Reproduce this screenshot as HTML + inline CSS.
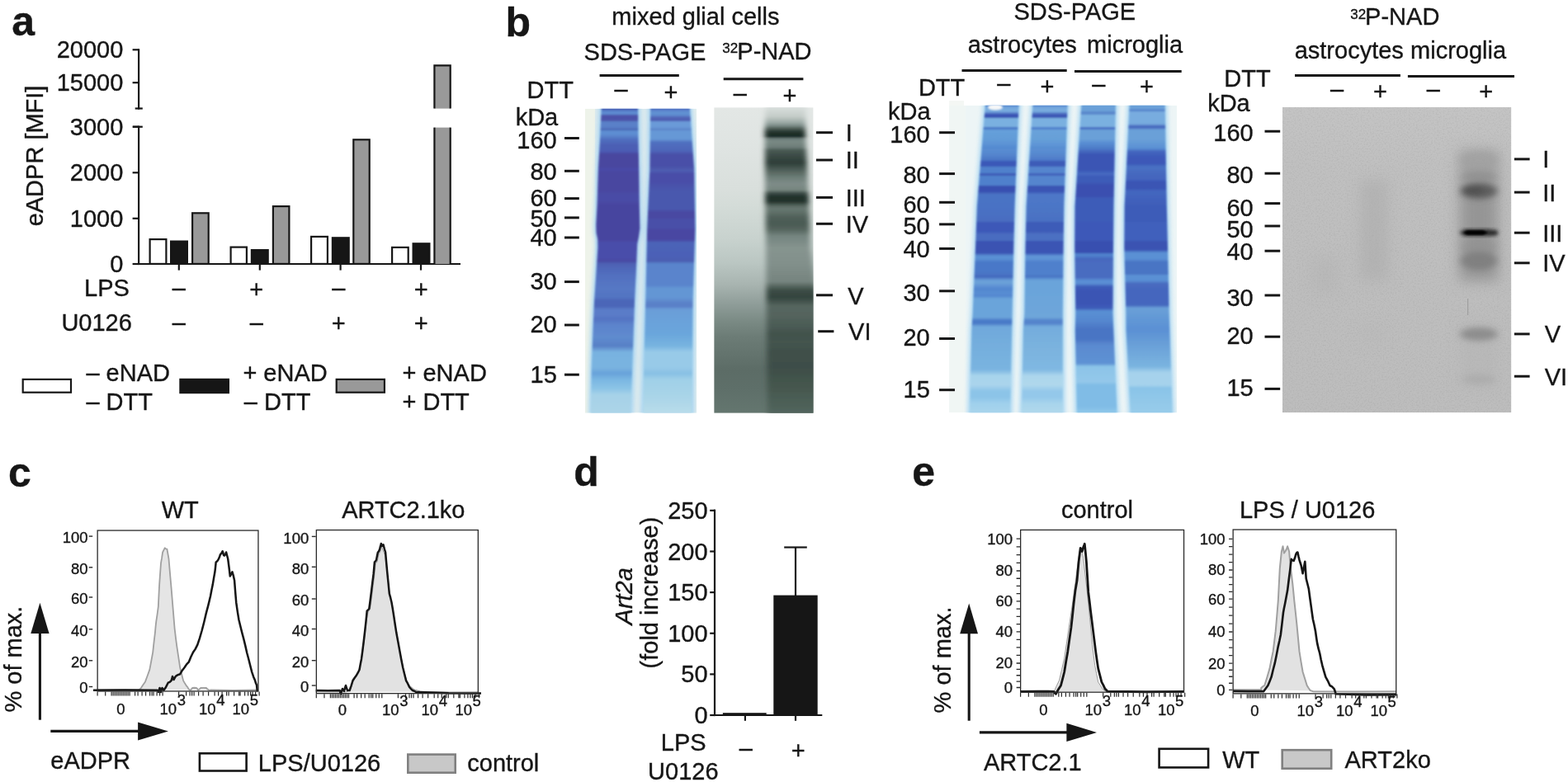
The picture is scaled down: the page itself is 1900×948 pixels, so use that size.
<!DOCTYPE html>
<html><head><meta charset="utf-8"><title>Figure</title>
<style>html,body{margin:0;padding:0;background:#fff;}svg{display:block;}</style></head>
<body><svg width="1900" height="948" viewBox="0 0 1900 948" font-family='"Liberation Sans", Arial, Helvetica, sans-serif' fill="#161616">
<style>text{stroke:#161616;stroke-width:0.35px;}</style>
<defs>
<filter id="bl1" x="-10%" y="-10%" width="120%" height="120%"><feGaussianBlur stdDeviation="1.1"/></filter>
<filter id="bl2" x="-30%" y="-30%" width="160%" height="160%"><feGaussianBlur stdDeviation="2"/></filter>
<filter id="bl3" x="-40%" y="-60%" width="180%" height="220%"><feGaussianBlur stdDeviation="3"/></filter>
<filter id="bl4" x="-40%" y="-80%" width="180%" height="260%"><feGaussianBlur stdDeviation="4.5 3.5"/></filter>
<filter id="bl5" x="-40%" y="-80%" width="180%" height="260%"><feGaussianBlur stdDeviation="5"/></filter>
<filter id="bl8" x="-50%" y="-50%" width="200%" height="200%"><feGaussianBlur stdDeviation="8"/></filter>
<filter id="blL" x="-20%" y="-5%" width="140%" height="110%"><feGaussianBlur stdDeviation="3.4 1.0"/></filter>
<filter id="glow" x="-20%" y="-5%" width="140%" height="110%"><feGaussianBlur stdDeviation="2.5"/></filter>
<clipPath id="cg1"><rect x="709" y="131.8" width="135.2" height="368.8"/></clipPath>
<linearGradient id="g1l1" gradientUnits="userSpaceOnUse" x1="0" y1="131.8" x2="0" y2="500.6"><stop offset="0" stop-color="#4458b0"/><stop offset="0.01" stop-color="#5d8ad0"/><stop offset="0.02" stop-color="#5d8ad0"/><stop offset="0.02" stop-color="#4e58ac"/><stop offset="0.03" stop-color="#4c50a8"/><stop offset="0.04" stop-color="#4e58ac"/><stop offset="0.04" stop-color="#5a80c8"/><stop offset="0.06" stop-color="#5a80c8"/><stop offset="0.07" stop-color="#4a64b4"/><stop offset="0.07" stop-color="#5a88cc"/><stop offset="0.08" stop-color="#5e90d4"/><stop offset="0.09" stop-color="#5a84cc"/><stop offset="0.1" stop-color="#5070c0"/><stop offset="0.12" stop-color="#4c60b4"/><stop offset="0.14" stop-color="#4c5cb4"/><stop offset="0.15" stop-color="#48469f"/><stop offset="0.19" stop-color="#48469f"/><stop offset="0.2" stop-color="#4a4ca8"/><stop offset="0.21" stop-color="#4a46a0"/><stop offset="0.27" stop-color="#4a46a0"/><stop offset="0.28" stop-color="#4a4ca6"/><stop offset="0.3" stop-color="#4a4ca6"/><stop offset="0.32" stop-color="#47449f"/><stop offset="0.43" stop-color="#47449f"/><stop offset="0.44" stop-color="#4a4eaa"/><stop offset="0.49" stop-color="#4a4eaa"/><stop offset="0.5" stop-color="#4848a2"/><stop offset="0.51" stop-color="#4e62b4"/><stop offset="0.55" stop-color="#5270c0"/><stop offset="0.59" stop-color="#5678c4"/><stop offset="0.62" stop-color="#5274c2"/><stop offset="0.63" stop-color="#4c66b8"/><stop offset="0.65" stop-color="#4c66b8"/><stop offset="0.66" stop-color="#5a7cc8"/><stop offset="0.68" stop-color="#5a7cc8"/><stop offset="0.69" stop-color="#5472c2"/><stop offset="0.71" stop-color="#5c84cc"/><stop offset="0.74" stop-color="#5e88ce"/><stop offset="0.75" stop-color="#5e8ccf"/><stop offset="0.78" stop-color="#5880c6"/><stop offset="0.8" stop-color="#78b2e0"/><stop offset="0.85" stop-color="#7ab4e0"/><stop offset="0.87" stop-color="#68a2da"/><stop offset="0.89" stop-color="#7ab6e2"/><stop offset="0.92" stop-color="#8cc4e6"/><stop offset="0.94" stop-color="#a6d2e8"/><stop offset="1" stop-color="#acd4e8"/></linearGradient>
<linearGradient id="g1l2" gradientUnits="userSpaceOnUse" x1="0" y1="131.8" x2="0" y2="500.6"><stop offset="0" stop-color="#4f6cc0"/><stop offset="0.01" stop-color="#6090d2"/><stop offset="0.02" stop-color="#6090d2"/><stop offset="0.03" stop-color="#5060b4"/><stop offset="0.04" stop-color="#5060b4"/><stop offset="0.04" stop-color="#6a9ad8"/><stop offset="0.06" stop-color="#6a9ad8"/><stop offset="0.07" stop-color="#5a80c8"/><stop offset="0.07" stop-color="#6698d6"/><stop offset="0.1" stop-color="#6698d6"/><stop offset="0.11" stop-color="#5070c0"/><stop offset="0.14" stop-color="#4e64b8"/><stop offset="0.15" stop-color="#4a50a8"/><stop offset="0.19" stop-color="#4a50a8"/><stop offset="0.2" stop-color="#4e5cb0"/><stop offset="0.21" stop-color="#4e5cb0"/><stop offset="0.21" stop-color="#4a4ea8"/><stop offset="0.24" stop-color="#4a4ea8"/><stop offset="0.27" stop-color="#4a58ae"/><stop offset="0.33" stop-color="#4a58ae"/><stop offset="0.34" stop-color="#4848a2"/><stop offset="0.36" stop-color="#4848a2"/><stop offset="0.36" stop-color="#4a50a8"/><stop offset="0.39" stop-color="#4a50a8"/><stop offset="0.4" stop-color="#4846a2"/><stop offset="0.43" stop-color="#4846a2"/><stop offset="0.44" stop-color="#4c64b8"/><stop offset="0.49" stop-color="#4c60b6"/><stop offset="0.5" stop-color="#4a5cb0"/><stop offset="0.51" stop-color="#5a84cc"/><stop offset="0.58" stop-color="#5a84cc"/><stop offset="0.59" stop-color="#6496d4"/><stop offset="0.62" stop-color="#6496d4"/><stop offset="0.64" stop-color="#5a80c8"/><stop offset="0.65" stop-color="#5a80c8"/><stop offset="0.66" stop-color="#6a9ed8"/><stop offset="0.74" stop-color="#6aa6dc"/><stop offset="0.78" stop-color="#78b4e0"/><stop offset="0.8" stop-color="#98cae8"/><stop offset="0.85" stop-color="#98cae8"/><stop offset="0.87" stop-color="#88c0e4"/><stop offset="0.89" stop-color="#a0d0e8"/><stop offset="0.94" stop-color="#a8d4e8"/><stop offset="1" stop-color="#b8dcea"/></linearGradient>
<clipPath id="cg2"><rect x="865.2" y="130.2" width="120.4" height="370.6"/></clipPath>
<linearGradient id="g2bg" gradientUnits="userSpaceOnUse" x1="0" y1="130.2" x2="0" y2="500.8"><stop offset="0" stop-color="#e3e7e5"/><stop offset="0.13" stop-color="#dfe4e2"/><stop offset="0.27" stop-color="#d9dfdc"/><stop offset="0.32" stop-color="#d4dcd8"/><stop offset="0.43" stop-color="#c8d2ce"/><stop offset="0.51" stop-color="#bac6c2"/><stop offset="0.58" stop-color="#a8b4b0"/><stop offset="0.64" stop-color="#909e9a"/><stop offset="0.7" stop-color="#7a8a84"/><stop offset="0.75" stop-color="#6c7c76"/><stop offset="0.86" stop-color="#5c6c66"/><stop offset="0.92" stop-color="#5e6f69"/><stop offset="1" stop-color="#64766f"/></linearGradient>
<linearGradient id="g2ln" gradientUnits="userSpaceOnUse" x1="0" y1="130.2" x2="0" y2="500.8"><stop offset="0" stop-color="#d8dedc"/><stop offset="0.03" stop-color="#c4ccc8"/><stop offset="0.05" stop-color="#9aa8a4"/><stop offset="0.06" stop-color="#7a8a85"/><stop offset="0.07" stop-color="#4a5a54"/><stop offset="0.08" stop-color="#26362f"/><stop offset="0.09" stop-color="#1c2c26"/><stop offset="0.1" stop-color="#2a3a34"/><stop offset="0.1" stop-color="#647470"/><stop offset="0.11" stop-color="#7a8a85"/><stop offset="0.13" stop-color="#6e7e79"/><stop offset="0.14" stop-color="#4a5a54"/><stop offset="0.16" stop-color="#3a4a44"/><stop offset="0.18" stop-color="#2e3e38"/><stop offset="0.19" stop-color="#3a4a44"/><stop offset="0.21" stop-color="#56665f"/><stop offset="0.23" stop-color="#6e7e79"/><stop offset="0.25" stop-color="#7e8c88"/><stop offset="0.27" stop-color="#76867f"/><stop offset="0.28" stop-color="#3e4e48"/><stop offset="0.29" stop-color="#263630"/><stop offset="0.3" stop-color="#1e2e28"/><stop offset="0.31" stop-color="#283832"/><stop offset="0.32" stop-color="#52625b"/><stop offset="0.33" stop-color="#66766f"/><stop offset="0.34" stop-color="#62726b"/><stop offset="0.36" stop-color="#50605a"/><stop offset="0.38" stop-color="#4a5a53"/><stop offset="0.4" stop-color="#56665f"/><stop offset="0.42" stop-color="#74847f"/><stop offset="0.46" stop-color="#86948f"/><stop offset="0.51" stop-color="#82908b"/><stop offset="0.57" stop-color="#76847f"/><stop offset="0.59" stop-color="#4c5c55"/><stop offset="0.6" stop-color="#3c4c46"/><stop offset="0.62" stop-color="#34443e"/><stop offset="0.63" stop-color="#3e4e48"/><stop offset="0.65" stop-color="#56665f"/><stop offset="0.68" stop-color="#54645d"/><stop offset="0.72" stop-color="#4a5a54"/><stop offset="0.74" stop-color="#42524c"/><stop offset="0.77" stop-color="#44544e"/><stop offset="0.8" stop-color="#40504a"/><stop offset="0.85" stop-color="#3e4e48"/><stop offset="0.92" stop-color="#46584f"/><stop offset="1" stop-color="#52655d"/></linearGradient>
<clipPath id="cg3"><rect x="1150.2" y="127.7" width="275.8" height="372.5"/></clipPath>
<linearGradient id="g3a1" gradientUnits="userSpaceOnUse" x1="0" y1="127.7" x2="0" y2="500.2"><stop offset="0" stop-color="#5a8ad0"/><stop offset="0.01" stop-color="#78acdf"/><stop offset="0.02" stop-color="#78acdf"/><stop offset="0.03" stop-color="#3a52b4"/><stop offset="0.04" stop-color="#3a52b4"/><stop offset="0.04" stop-color="#7ab0e0"/><stop offset="0.07" stop-color="#7ab0e0"/><stop offset="0.07" stop-color="#4a78c8"/><stop offset="0.08" stop-color="#4a78c8"/><stop offset="0.08" stop-color="#66a0da"/><stop offset="0.11" stop-color="#629cd8"/><stop offset="0.13" stop-color="#5a90d4"/><stop offset="0.14" stop-color="#5088cf"/><stop offset="0.14" stop-color="#5a8ed2"/><stop offset="0.16" stop-color="#5486ce"/><stop offset="0.18" stop-color="#4a74c4"/><stop offset="0.18" stop-color="#3a58b8"/><stop offset="0.2" stop-color="#3a58b8"/><stop offset="0.2" stop-color="#5080cc"/><stop offset="0.22" stop-color="#5080cc"/><stop offset="0.22" stop-color="#3e5cb8"/><stop offset="0.23" stop-color="#3e5cb8"/><stop offset="0.23" stop-color="#5080cc"/><stop offset="0.26" stop-color="#5080cc"/><stop offset="0.26" stop-color="#3850b0"/><stop offset="0.28" stop-color="#3850b0"/><stop offset="0.29" stop-color="#4a74c4"/><stop offset="0.33" stop-color="#4a72c4"/><stop offset="0.38" stop-color="#4a6cc0"/><stop offset="0.38" stop-color="#3c58b8"/><stop offset="0.41" stop-color="#3c58b8"/><stop offset="0.42" stop-color="#4a6cc0"/><stop offset="0.44" stop-color="#4a6cc0"/><stop offset="0.44" stop-color="#3a52b2"/><stop offset="0.48" stop-color="#3a52b2"/><stop offset="0.49" stop-color="#5a90d4"/><stop offset="0.5" stop-color="#5a90d4"/><stop offset="0.51" stop-color="#4a78c8"/><stop offset="0.54" stop-color="#4a78c8"/><stop offset="0.55" stop-color="#4a74c4"/><stop offset="0.56" stop-color="#3e64bc"/><stop offset="0.56" stop-color="#4a74c4"/><stop offset="0.57" stop-color="#6aa0d8"/><stop offset="0.58" stop-color="#6aa0d8"/><stop offset="0.59" stop-color="#5a8ed4"/><stop offset="0.6" stop-color="#5286ce"/><stop offset="0.61" stop-color="#5a8ed4"/><stop offset="0.62" stop-color="#5488d0"/><stop offset="0.63" stop-color="#6aa4da"/><stop offset="0.69" stop-color="#6aa4da"/><stop offset="0.7" stop-color="#4a7ac8"/><stop offset="0.71" stop-color="#4a7ac8"/><stop offset="0.72" stop-color="#70a8dc"/><stop offset="0.78" stop-color="#74aedd"/><stop offset="0.86" stop-color="#7ab4e0"/><stop offset="0.88" stop-color="#a8d4ec"/><stop offset="0.91" stop-color="#aad4ec"/><stop offset="0.93" stop-color="#8cc4e8"/><stop offset="0.95" stop-color="#8cc4e8"/><stop offset="0.97" stop-color="#a0d0ec"/><stop offset="1" stop-color="#a8d4ec"/></linearGradient>
<linearGradient id="g3a2" gradientUnits="userSpaceOnUse" x1="0" y1="127.7" x2="0" y2="500.2"><stop offset="0" stop-color="#5a8ad0"/><stop offset="0.01" stop-color="#78acdf"/><stop offset="0.02" stop-color="#78acdf"/><stop offset="0.03" stop-color="#3e58b6"/><stop offset="0.04" stop-color="#3e58b6"/><stop offset="0.04" stop-color="#7ab0e0"/><stop offset="0.07" stop-color="#7ab0e0"/><stop offset="0.07" stop-color="#5080cc"/><stop offset="0.08" stop-color="#5080cc"/><stop offset="0.08" stop-color="#6aa2da"/><stop offset="0.11" stop-color="#66a0d8"/><stop offset="0.13" stop-color="#5e94d6"/><stop offset="0.14" stop-color="#548ccf"/><stop offset="0.14" stop-color="#5c90d4"/><stop offset="0.16" stop-color="#5688ce"/><stop offset="0.18" stop-color="#4e78c8"/><stop offset="0.18" stop-color="#3e5cb8"/><stop offset="0.2" stop-color="#3e5cb8"/><stop offset="0.2" stop-color="#5585ce"/><stop offset="0.22" stop-color="#5585ce"/><stop offset="0.22" stop-color="#4262bc"/><stop offset="0.23" stop-color="#4262bc"/><stop offset="0.23" stop-color="#5585ce"/><stop offset="0.26" stop-color="#5585ce"/><stop offset="0.26" stop-color="#3a54b4"/><stop offset="0.28" stop-color="#3a54b4"/><stop offset="0.29" stop-color="#4e78c8"/><stop offset="0.33" stop-color="#4c76c6"/><stop offset="0.38" stop-color="#4a70c2"/><stop offset="0.38" stop-color="#3e5cb8"/><stop offset="0.41" stop-color="#3e5cb8"/><stop offset="0.42" stop-color="#4c70c2"/><stop offset="0.44" stop-color="#4c70c2"/><stop offset="0.44" stop-color="#3a54b4"/><stop offset="0.48" stop-color="#3a54b4"/><stop offset="0.49" stop-color="#5e94d6"/><stop offset="0.5" stop-color="#5e94d6"/><stop offset="0.51" stop-color="#5080cc"/><stop offset="0.54" stop-color="#5080cc"/><stop offset="0.55" stop-color="#5080cc"/><stop offset="0.56" stop-color="#4470c0"/><stop offset="0.56" stop-color="#5282cc"/><stop offset="0.57" stop-color="#6aa4da"/><stop offset="0.69" stop-color="#6ea6da"/><stop offset="0.7" stop-color="#5484cc"/><stop offset="0.71" stop-color="#5484cc"/><stop offset="0.72" stop-color="#74acdd"/><stop offset="0.78" stop-color="#7ab2de"/><stop offset="0.86" stop-color="#80b8e2"/><stop offset="0.88" stop-color="#acd6ec"/><stop offset="0.91" stop-color="#b0d8ec"/><stop offset="0.93" stop-color="#94c8ea"/><stop offset="0.95" stop-color="#94c8ea"/><stop offset="0.97" stop-color="#a8d4ec"/><stop offset="1" stop-color="#b0d8ec"/></linearGradient>
<linearGradient id="g3m3" gradientUnits="userSpaceOnUse" x1="0" y1="127.7" x2="0" y2="500.2"><stop offset="0" stop-color="#6aa0d8"/><stop offset="0.02" stop-color="#6aa0d8"/><stop offset="0.02" stop-color="#5a88cc"/><stop offset="0.03" stop-color="#5a88cc"/><stop offset="0.03" stop-color="#7ab0e0"/><stop offset="0.07" stop-color="#7ab0e0"/><stop offset="0.07" stop-color="#4a70c4"/><stop offset="0.08" stop-color="#4a70c4"/><stop offset="0.08" stop-color="#6aa0d8"/><stop offset="0.11" stop-color="#6aa0d8"/><stop offset="0.12" stop-color="#5a90d4"/><stop offset="0.14" stop-color="#4e7cc8"/><stop offset="0.16" stop-color="#3a54b4"/><stop offset="0.21" stop-color="#3a54b4"/><stop offset="0.22" stop-color="#4468c0"/><stop offset="0.23" stop-color="#4468c0"/><stop offset="0.23" stop-color="#3e5cb8"/><stop offset="0.25" stop-color="#3e5cb8"/><stop offset="0.26" stop-color="#3a50b0"/><stop offset="0.3" stop-color="#3a50b0"/><stop offset="0.3" stop-color="#3e5cb8"/><stop offset="0.38" stop-color="#3e5cb8"/><stop offset="0.38" stop-color="#3c58b8"/><stop offset="0.44" stop-color="#3c58b8"/><stop offset="0.44" stop-color="#3850b0"/><stop offset="0.48" stop-color="#3850b0"/><stop offset="0.48" stop-color="#5080cc"/><stop offset="0.49" stop-color="#5080cc"/><stop offset="0.5" stop-color="#4466be"/><stop offset="0.51" stop-color="#4a6cc0"/><stop offset="0.56" stop-color="#4a6cc0"/><stop offset="0.57" stop-color="#5a8ed4"/><stop offset="0.58" stop-color="#5a8ed4"/><stop offset="0.59" stop-color="#3e5cb8"/><stop offset="0.61" stop-color="#3a54b4"/><stop offset="0.64" stop-color="#3a54b4"/><stop offset="0.66" stop-color="#3e5cb8"/><stop offset="0.67" stop-color="#5a90d4"/><stop offset="0.7" stop-color="#5588cf"/><stop offset="0.73" stop-color="#4a74c4"/><stop offset="0.76" stop-color="#4a74c4"/><stop offset="0.78" stop-color="#5a8ad0"/><stop offset="0.84" stop-color="#5e92d4"/><stop offset="0.85" stop-color="#8cc4e8"/><stop offset="0.9" stop-color="#94c8ea"/><stop offset="0.91" stop-color="#80bce6"/><stop offset="0.98" stop-color="#80bce6"/><stop offset="1" stop-color="#90c8ea"/></linearGradient>
<linearGradient id="g3m4" gradientUnits="userSpaceOnUse" x1="0" y1="127.7" x2="0" y2="500.2"><stop offset="0" stop-color="#6aa0d8"/><stop offset="0.01" stop-color="#6aa0d8"/><stop offset="0.02" stop-color="#4a74c4"/><stop offset="0.02" stop-color="#4a74c4"/><stop offset="0.02" stop-color="#78acdf"/><stop offset="0.06" stop-color="#78acdf"/><stop offset="0.07" stop-color="#3e5cb8"/><stop offset="0.07" stop-color="#3e5cb8"/><stop offset="0.08" stop-color="#6aa0d8"/><stop offset="0.11" stop-color="#6aa0d8"/><stop offset="0.14" stop-color="#5a90d4"/><stop offset="0.15" stop-color="#4466be"/><stop offset="0.17" stop-color="#3c58b8"/><stop offset="0.19" stop-color="#3c58b8"/><stop offset="0.2" stop-color="#4a72c4"/><stop offset="0.23" stop-color="#4466be"/><stop offset="0.24" stop-color="#4466be"/><stop offset="0.25" stop-color="#3a54b4"/><stop offset="0.27" stop-color="#3a54b4"/><stop offset="0.28" stop-color="#4468c0"/><stop offset="0.33" stop-color="#3e5cb8"/><stop offset="0.38" stop-color="#3e5cb8"/><stop offset="0.38" stop-color="#4060bc"/><stop offset="0.44" stop-color="#4060bc"/><stop offset="0.44" stop-color="#3a52b2"/><stop offset="0.47" stop-color="#3a52b2"/><stop offset="0.48" stop-color="#5a90d4"/><stop offset="0.5" stop-color="#5a90d4"/><stop offset="0.51" stop-color="#4a74c4"/><stop offset="0.55" stop-color="#4a74c4"/><stop offset="0.55" stop-color="#5a90d4"/><stop offset="0.57" stop-color="#5a90d4"/><stop offset="0.58" stop-color="#4a6cc0"/><stop offset="0.6" stop-color="#4466be"/><stop offset="0.65" stop-color="#4466be"/><stop offset="0.66" stop-color="#6aa0d8"/><stop offset="0.73" stop-color="#5a90d4"/><stop offset="0.78" stop-color="#6aa0d8"/><stop offset="0.85" stop-color="#7ab4e0"/><stop offset="0.87" stop-color="#a6d2ec"/><stop offset="0.91" stop-color="#a6d2ec"/><stop offset="0.92" stop-color="#8ac4e8"/><stop offset="1" stop-color="#98ccea"/></linearGradient>
<clipPath id="cg4"><rect x="1554" y="129.8" width="277.4" height="370.4"/></clipPath>
<linearGradient id="g4bg" gradientUnits="userSpaceOnUse" x1="0" y1="129.8" x2="0" y2="500.2"><stop offset="0" stop-color="#c4c4c4"/><stop offset="0.19" stop-color="#c0c0c0"/><stop offset="0.59" stop-color="#bebebe"/><stop offset="1" stop-color="#bdbdbd"/></linearGradient>
<filter id="grain" x="0" y="0" width="100%" height="100%"><feTurbulence type="fractalNoise" baseFrequency="0.55" numOctaves="2" seed="5" result="n"/><feColorMatrix in="n" type="matrix" values="0 0 0 0 0  0 0 0 0 0  0 0 0 0 0  0 0 0 -0.9 0.5"/></filter>
</defs>
<rect width="1900" height="948" fill="#fff"/>
<text x="14.34" y="43.3" font-size="50" font-weight="bold">a</text>
<text x="68.69" y="70.4" font-size="29">20000</text>
<line x1="160.6" y1="60.3" x2="168.1" y2="60.3" stroke="#161616" stroke-width="2.2"/>
<text x="68.69" y="110.3" font-size="29">15000</text>
<line x1="160.6" y1="100.2" x2="168.1" y2="100.2" stroke="#161616" stroke-width="2.2"/>
<text x="84.82" y="163.8" font-size="29">3000</text>
<line x1="160.6" y1="153.7" x2="168.1" y2="153.7" stroke="#161616" stroke-width="2.2"/>
<text x="84.82" y="219.4" font-size="29">2000</text>
<line x1="160.6" y1="209.3" x2="168.1" y2="209.3" stroke="#161616" stroke-width="2.2"/>
<text x="84.82" y="274.9" font-size="29">1000</text>
<line x1="160.6" y1="264.8" x2="168.1" y2="264.8" stroke="#161616" stroke-width="2.2"/>
<text x="133.2" y="330.1" font-size="29">0</text>
<line x1="160.6" y1="320" x2="168.1" y2="320" stroke="#161616" stroke-width="2.2"/>
<line x1="168.1" y1="59.2" x2="168.1" y2="132.6" stroke="#161616" stroke-width="2.2"/>
<line x1="163.7" y1="131.5" x2="172.8" y2="131.5" stroke="#161616" stroke-width="2.2"/>
<line x1="168.1" y1="152.6" x2="168.1" y2="321.1" stroke="#161616" stroke-width="2.2"/>
<line x1="161" y1="153.7" x2="172.8" y2="153.7" stroke="#161616" stroke-width="2.2"/>
<line x1="168.1" y1="320" x2="558" y2="320" stroke="#161616" stroke-width="2.2"/>
<line x1="216.8" y1="320" x2="216.8" y2="327.6" stroke="#161616" stroke-width="2.2"/>
<line x1="314.8" y1="320" x2="314.8" y2="327.6" stroke="#161616" stroke-width="2.2"/>
<line x1="412.6" y1="320" x2="412.6" y2="327.6" stroke="#161616" stroke-width="2.2"/>
<line x1="510" y1="320" x2="510" y2="327.6" stroke="#161616" stroke-width="2.2"/>
<rect x="181.6" y="290.1" width="19.8" height="29.8" fill="#fff" stroke="#161616" stroke-width="2.2"/>
<rect x="207.1" y="292.6" width="19.8" height="27.3" fill="#161616" stroke="#161616" stroke-width="2.2"/>
<rect x="233.1" y="258.3" width="19.6" height="61.6" fill="#999" stroke="#161616" stroke-width="2.2"/>
<rect x="279.6" y="299.6" width="19.3" height="20.3" fill="#fff" stroke="#161616" stroke-width="2.2"/>
<rect x="304.9" y="303.1" width="19.8" height="16.8" fill="#161616" stroke="#161616" stroke-width="2.2"/>
<rect x="330.9" y="250.1" width="19.5" height="69.8" fill="#999" stroke="#161616" stroke-width="2.2"/>
<rect x="377.1" y="286.9" width="19.8" height="33" fill="#fff" stroke="#161616" stroke-width="2.2"/>
<rect x="402.9" y="288.3" width="19.8" height="31.6" fill="#161616" stroke="#161616" stroke-width="2.2"/>
<rect x="428.3" y="169.3" width="19.4" height="150.6" fill="#999" stroke="#161616" stroke-width="2.2"/>
<rect x="475.1" y="299.9" width="19.6" height="20" fill="#fff" stroke="#161616" stroke-width="2.2"/>
<rect x="500.6" y="295.3" width="19.8" height="24.6" fill="#161616" stroke="#161616" stroke-width="2.2"/>
<rect x="526.4" y="79.4" width="19.3" height="52.2" fill="#999"/>
<path d="M526.4,131.6 V79.4 H545.7 V131.6" fill="none" stroke="#161616" stroke-width="2.2"/>
<rect x="526.4" y="154.6" width="19.3" height="165.4" fill="#999"/>
<line x1="526.4" y1="154.6" x2="526.4" y2="321" stroke="#161616" stroke-width="2.2"/>
<line x1="545.7" y1="154.6" x2="545.7" y2="321" stroke="#161616" stroke-width="2.2"/>
<text transform="translate(51.8,189.4) rotate(-90)" x="-84.98" y="0" font-size="29">eADPR [MFI]</text>
<text x="102.02" y="359" font-size="29">LPS</text>
<text x="74.42" y="400.8" font-size="29">U0126</text>
<text x="208.84" y="359" font-size="29">–</text>
<text x="302.34" y="360.5" font-size="29">+</text>
<text x="402.14" y="359" font-size="29">–</text>
<text x="501.74" y="360.5" font-size="29">+</text>
<text x="208.84" y="400.8" font-size="29">–</text>
<text x="302.74" y="400.8" font-size="29">–</text>
<text x="401.74" y="402.3" font-size="29">+</text>
<text x="501.74" y="402.3" font-size="29">+</text>
<rect x="27.7" y="459.9" width="58.3" height="15.8" fill="#fff" stroke="#161616" stroke-width="2.2"/>
<rect x="218.4" y="459.9" width="58.5" height="16.2" fill="#161616" stroke="#161616" stroke-width="2.2"/>
<rect x="407.7" y="459.9" width="58.2" height="15.8" fill="#999" stroke="#161616" stroke-width="2.2"/>
<text x="104.4" y="461.8" font-size="29">– eNAD</text>
<text x="104.4" y="496.8" font-size="29">– DTT</text>
<text x="294.38" y="461.8" font-size="29">+ eNAD</text>
<text x="295.8" y="496.8" font-size="29">– DTT</text>
<text x="487.48" y="461.8" font-size="29">+ eNAD</text>
<text x="487.48" y="496.8" font-size="29">+ DTT</text>
<g clip-path="url(#cg1)">
<rect x="709" y="131.8" width="135.2" height="368.8" fill="#dceaee"/>
<rect x="709" y="131.8" width="12" height="368.8" fill="#eef3ea"/>
<rect x="839" y="131.8" width="5.2" height="368.8" fill="#e4eeee"/>
<g filter="url(#glow)" opacity="0.9">
<path d="M725.9,128 L724,170 L721.9,205 L720.5,250 L719.3,272 L719.5,282 L721.2,290 L721.4,300 L719.5,330 L717,366 L715.5,400 L713.8,446 L713,504 L767,504 L769.2,446 L770.5,410 L772,366 L773.8,330 L775.2,296 L777,287 L778.4,277 L777.8,250 L777.2,205 L776.5,170 L776,128 Z" fill="#a6d4f2"/>
<path d="M785.2,128 L784.4,205 L781.2,277 L779.2,366 L777.2,446 L776.4,504 L841.4,504 L842.6,366 L845.4,277 L844.2,205 L838.6,128 Z" fill="#a6d4f2"/>
</g>
<g filter="url(#bl1)">
<path d="M728.9,128 L727,170 L724.9,205 L723.5,250 L722.3,272 L722.5,282 L724.2,290 L724.4,300 L722.5,330 L720,366 L718.5,400 L716.8,446 L716,504 L764,504 L766.2,446 L767.5,410 L769,366 L770.8,330 L772.2,296 L774,287 L775.4,277 L774.8,250 L774.2,205 L773.5,170 L773,128 Z" fill="url(#g1l1)"/>
<path d="M788.2,128 L787.4,205 L784.2,277 L782.2,366 L780.2,446 L779.4,504 L838.4,504 L839.6,366 L842.4,277 L841.2,205 L835.6,128 Z" fill="url(#g1l2)"/>
</g></g>
<g clip-path="url(#cg2)">
<rect x="865.2" y="130.2" width="120.4" height="370.6" fill="url(#g2bg)"/>
<g filter="url(#blL)">
<path d="M927.5,128 L926.5,160 L927,240 L928,300 L929,420 L930,505 L992,505 L990,360 L982,300 L980,240 L976,160 L976.5,128 Z" fill="url(#g2ln)"/>
</g></g>
<g clip-path="url(#cg3)">
<rect x="1150.2" y="127.7" width="275.8" height="372.5" fill="#edf5f6"/>
<rect x="1150.2" y="127.7" width="19.8" height="372.5" fill="#f0f6f4"/>
<g filter="url(#glow)" opacity="0.85">
<path d="M1191.2,124 L1180.9,250 L1179,300 L1175.7,380 L1174.4,400 L1172,504 L1227,504 L1229.6,380 L1231.3,300 L1232.6,250 L1237.7,124 Z" fill="#a8d6f2"/>
<path d="M1248.7,124 L1240.6,250 L1239.5,300 L1238.4,380 L1237,400 L1235,504 L1290.7,504 L1290.8,380 L1291.6,300 L1292.3,250 L1296.7,124 Z" fill="#a8d6f2"/>
<path d="M1307.6,124 L1299.5,250 L1299.2,300 L1300.3,380 L1299.8,400 L1302,504 L1356.6,504 L1351.5,380 L1352,300 L1352.5,250 L1354.9,124 Z" fill="#a8d6f2"/>
<path d="M1365.8,124 L1359.6,250 L1359.3,300 L1361.4,380 L1361.5,400 L1367,504 L1423.7,504 L1419.7,380 L1418,300 L1416.8,250 L1414.6,124 Z" fill="#a8d6f2"/>
</g><g filter="url(#bl1)">
<path d="M1194.2,124 L1183.9,250 L1182,300 L1178.7,380 L1177.4,400 L1175,504 L1224,504 L1226.6,380 L1228.3,300 L1229.6,250 L1234.7,124 Z" fill="url(#g3a1)"/>
<path d="M1251.7,124 L1243.6,250 L1242.5,300 L1241.4,380 L1240,400 L1238,504 L1287.7,504 L1287.8,380 L1288.6,300 L1289.3,250 L1293.7,124 Z" fill="url(#g3a2)"/>
<path d="M1310.6,124 L1302.5,250 L1302.2,300 L1303.3,380 L1302.8,400 L1305,504 L1353.6,504 L1348.5,380 L1349,300 L1349.5,250 L1351.9,124 Z" fill="url(#g3m3)"/>
<path d="M1368.8,124 L1362.6,250 L1362.3,300 L1364.4,380 L1364.5,400 L1370,504 L1420.7,504 L1416.7,380 L1415,300 L1413.8,250 L1411.6,124 Z" fill="url(#g3m4)"/>
</g>
<ellipse cx="1206" cy="130" rx="9" ry="3.6" fill="#f6f7f8" filter="url(#bl1)"/>
</g>
<rect x="1150.2" y="122" width="17.8" height="6" fill="#f4f7f4"/>
<g clip-path="url(#cg4)">
<rect x="1554" y="129.8" width="277.4" height="370.4" fill="url(#g4bg)"/>
<rect x="1554.0" y="129.8" width="277.4" height="370.4" filter="url(#grain)" opacity="0.14"/>
<g filter="url(#bl8)">
<rect x="1648" y="218" width="34" height="122" fill="#acacac" opacity="0.6"/>
<rect x="1590" y="312" width="32" height="44" fill="#b2b2b2" opacity="0.45"/>
<rect x="1648" y="395" width="30" height="20" fill="#b4b4b4" opacity="0.35"/>
<rect x="1768" y="182" width="48" height="160" fill="#9a9a9a" opacity="0.85"/>
<rect x="1770" y="215" width="44" height="120" fill="#8c8c8c" opacity="0.5"/>
<rect x="1770" y="390" width="44" height="80" fill="#b4b4b4" opacity="0.5"/>
</g>
<g filter="url(#bl4)">
<ellipse cx="1792" cy="194" rx="22" ry="9" fill="#a2a2a2" opacity="0.7"/>
<ellipse cx="1792" cy="214" rx="22" ry="6" fill="#8a8a8a" opacity="0.5"/>
<ellipse cx="1792" cy="231.5" rx="22" ry="9.5" fill="#5a5a5a" opacity="0.9"/>
<ellipse cx="1792" cy="300" rx="22" ry="8" fill="#929292" opacity="0.5"/>
<ellipse cx="1792" cy="316" rx="22" ry="11" fill="#7c7c7c" opacity="0.85"/>
<ellipse cx="1792" cy="405" rx="23" ry="8" fill="#868686" opacity="0.85"/>
<ellipse cx="1792" cy="460" rx="20" ry="6" fill="#aaaaaa" opacity="0.75"/>
<ellipse cx="1785" cy="231" rx="14" ry="6" fill="#4a4a4a" opacity="0.6"/>
</g>
<g filter="url(#bl2)"><path d="M1768,282 L1775,278 L1800,277.8 L1813,279 L1816,282 L1813,285.5 L1800,286.2 L1775,286.2 Z" fill="#2a2a2a"/></g>
<g filter="url(#bl1)"><path d="M1773,282 L1778,279.3 L1797,279.3 L1803,282 L1797,284.7 L1778,284.7 Z" fill="#000"/></g>
<line x1="1778.7" y1="362" x2="1778.7" y2="382" stroke="#999" stroke-width="1"/>
</g>
<text x="612.4" y="43.8" font-size="50" font-weight="bold">b</text>
<text x="741.37" y="29.9" font-size="29">mixed glial cells</text>
<text x="707.58" y="72.9" font-size="29">SDS-PAGE</text>
<text x="875.35" y="63.9" font-size="17">32</text>
<text x="893.32" y="72.2" font-size="29">P-NAD</text>
<line x1="726.6" y1="91.6" x2="822.8" y2="91.6" stroke="#161616" stroke-width="3"/>
<line x1="876.7" y1="95.7" x2="973.4" y2="95.7" stroke="#161616" stroke-width="3"/>
<text x="638.62" y="118.5" font-size="29">DTT</text>
<text x="744.44" y="117.96" font-size="29">–</text>
<text x="804.44" y="122.34" font-size="29">+</text>
<text x="888.74" y="122.56" font-size="29">–</text>
<text x="948.54" y="125.84" font-size="29">+</text>
<text x="624.65" y="152.3" font-size="29">kDa</text>
<text x="626.35" y="180.4" font-size="29">160</text>
<line x1="684" y1="167.5" x2="701.8" y2="167.5" stroke="#161616" stroke-width="3"/>
<text x="642.48" y="218.3" font-size="29">80</text>
<line x1="684" y1="207.3" x2="701.8" y2="207.3" stroke="#161616" stroke-width="3"/>
<text x="642.48" y="250" font-size="29">60</text>
<line x1="684" y1="240.6" x2="701.8" y2="240.6" stroke="#161616" stroke-width="3"/>
<text x="642.48" y="274.7" font-size="29">50</text>
<line x1="684" y1="263.9" x2="701.8" y2="263.9" stroke="#161616" stroke-width="3"/>
<text x="642.48" y="297.5" font-size="29">40</text>
<line x1="684" y1="288" x2="701.8" y2="288" stroke="#161616" stroke-width="3"/>
<text x="642.48" y="351.2" font-size="29">30</text>
<line x1="684" y1="341.6" x2="701.8" y2="341.6" stroke="#161616" stroke-width="3"/>
<text x="642.48" y="402.7" font-size="29">20</text>
<line x1="684" y1="394" x2="701.8" y2="394" stroke="#161616" stroke-width="3"/>
<text x="642.56" y="464.4" font-size="29">15</text>
<line x1="684" y1="454.2" x2="701.8" y2="454.2" stroke="#161616" stroke-width="3"/>
<text x="1228.48" y="23.8" font-size="29">SDS-PAGE</text>
<text x="1172.67" y="64.3" font-size="29">astrocytes</text>
<text x="1317.07" y="64.3" font-size="29">microglia</text>
<line x1="1165.5" y1="85.4" x2="1292.7" y2="85.4" stroke="#161616" stroke-width="3"/>
<line x1="1302" y1="86.5" x2="1431.7" y2="86.5" stroke="#161616" stroke-width="3"/>
<text x="1112.92" y="115.6" font-size="29">DTT</text>
<text x="1208.14" y="111.36" font-size="29">–</text>
<text x="1260.44" y="115.24" font-size="29">+</text>
<text x="1323.24" y="111.66" font-size="29">–</text>
<text x="1381.04" y="115.24" font-size="29">+</text>
<text x="1076.05" y="145.1" font-size="29">kDa</text>
<text x="1078.35" y="172.5" font-size="29">160</text>
<line x1="1138.1" y1="160.7" x2="1157" y2="160.7" stroke="#161616" stroke-width="3"/>
<text x="1094.48" y="221.8" font-size="29">80</text>
<line x1="1138.1" y1="210.6" x2="1157" y2="210.6" stroke="#161616" stroke-width="3"/>
<text x="1094.48" y="258.3" font-size="29">60</text>
<line x1="1138.1" y1="245.3" x2="1157" y2="245.3" stroke="#161616" stroke-width="3"/>
<text x="1094.48" y="284.4" font-size="29">50</text>
<line x1="1138.1" y1="271.9" x2="1157" y2="271.9" stroke="#161616" stroke-width="3"/>
<text x="1094.48" y="311.5" font-size="29">40</text>
<line x1="1138.1" y1="301.4" x2="1157" y2="301.4" stroke="#161616" stroke-width="3"/>
<text x="1094.48" y="364.8" font-size="29">30</text>
<line x1="1138.1" y1="352.8" x2="1157" y2="352.8" stroke="#161616" stroke-width="3"/>
<text x="1094.48" y="419" font-size="29">20</text>
<line x1="1138.1" y1="410.5" x2="1157" y2="410.5" stroke="#161616" stroke-width="3"/>
<text x="1094.56" y="482.2" font-size="29">15</text>
<line x1="1138.1" y1="472.7" x2="1157" y2="472.7" stroke="#161616" stroke-width="3"/>
<text x="1636.35" y="23.3" font-size="17">32</text>
<text x="1654.12" y="30.4" font-size="29">P-NAD</text>
<text x="1568.67" y="70.7" font-size="29">astrocytes</text>
<text x="1709.07" y="70.7" font-size="29">microglia</text>
<line x1="1569" y1="91.4" x2="1696.9" y2="91.4" stroke="#161616" stroke-width="3"/>
<line x1="1705.9" y1="92.6" x2="1835" y2="92.6" stroke="#161616" stroke-width="3"/>
<text x="1483.22" y="105.2" font-size="29">DTT</text>
<text x="1611.94" y="117.76" font-size="29">–</text>
<text x="1664.04" y="121.24" font-size="29">+</text>
<text x="1728.64" y="117.76" font-size="29">–</text>
<text x="1792.24" y="121.24" font-size="29">+</text>
<text x="1463.15" y="135.3" font-size="29">kDa</text>
<text x="1470.25" y="170.8" font-size="29">160</text>
<line x1="1532.5" y1="159.2" x2="1551.2" y2="159.2" stroke="#161616" stroke-width="3"/>
<text x="1486.38" y="222.3" font-size="29">80</text>
<line x1="1532.5" y1="210.2" x2="1551.2" y2="210.2" stroke="#161616" stroke-width="3"/>
<text x="1486.38" y="261.7" font-size="29">60</text>
<line x1="1532.5" y1="246.6" x2="1551.2" y2="246.6" stroke="#161616" stroke-width="3"/>
<text x="1486.38" y="288" font-size="29">50</text>
<line x1="1532.5" y1="274" x2="1551.2" y2="274" stroke="#161616" stroke-width="3"/>
<text x="1486.38" y="315.3" font-size="29">40</text>
<line x1="1532.5" y1="304.2" x2="1551.2" y2="304.2" stroke="#161616" stroke-width="3"/>
<text x="1486.38" y="371.1" font-size="29">30</text>
<line x1="1532.5" y1="358" x2="1551.2" y2="358" stroke="#161616" stroke-width="3"/>
<text x="1486.38" y="416.8" font-size="29">20</text>
<line x1="1532.5" y1="408.2" x2="1551.2" y2="408.2" stroke="#161616" stroke-width="3"/>
<text x="1486.46" y="480.4" font-size="29">15</text>
<line x1="1532.5" y1="471.4" x2="1551.2" y2="471.4" stroke="#161616" stroke-width="3"/>
<text x="1024.72" y="171" font-size="29">I</text>
<line x1="989" y1="160.7" x2="1009" y2="160.7" stroke="#161616" stroke-width="3"/>
<text x="1024.72" y="204.3" font-size="29">II</text>
<line x1="989" y1="194" x2="1009" y2="194" stroke="#161616" stroke-width="3"/>
<text x="1024.72" y="249.8" font-size="29">III</text>
<line x1="989" y1="239.4" x2="1009" y2="239.4" stroke="#161616" stroke-width="3"/>
<text x="1024.72" y="282.2" font-size="29">IV</text>
<line x1="989" y1="271.3" x2="1009" y2="271.3" stroke="#161616" stroke-width="3"/>
<text x="1027.27" y="368.7" font-size="29">V</text>
<line x1="989" y1="357.8" x2="1009" y2="357.8" stroke="#161616" stroke-width="3"/>
<text x="1028.07" y="411.5" font-size="29">VI</text>
<line x1="991.2" y1="401.7" x2="1010.4" y2="401.7" stroke="#161616" stroke-width="3"/>
<text x="1869.22" y="202.7" font-size="29">I</text>
<line x1="1834.9" y1="192.9" x2="1853.6" y2="192.9" stroke="#161616" stroke-width="3"/>
<text x="1869.22" y="243.6" font-size="29">II</text>
<line x1="1834.9" y1="233.1" x2="1853.6" y2="233.1" stroke="#161616" stroke-width="3"/>
<text x="1869.22" y="292.7" font-size="29">III</text>
<line x1="1834.9" y1="282.2" x2="1853.6" y2="282.2" stroke="#161616" stroke-width="3"/>
<text x="1869.22" y="328.7" font-size="29">IV</text>
<line x1="1834.9" y1="318.8" x2="1853.6" y2="318.8" stroke="#161616" stroke-width="3"/>
<text x="1871.77" y="415.3" font-size="29">V</text>
<line x1="1834.9" y1="404.9" x2="1853.6" y2="404.9" stroke="#161616" stroke-width="3"/>
<text x="1871.77" y="467" font-size="29">VI</text>
<line x1="1834.9" y1="456.2" x2="1853.6" y2="456.2" stroke="#161616" stroke-width="3"/>
<text x="10.05" y="589.5" font-size="50" font-weight="bold">c</text>
<text x="195.67" y="628.2" font-size="29">WT</text>
<text x="414.14" y="628.2" font-size="29">ARTC2.1ko</text>
<path d="M117.5,836.5 L142.8,836.19 L168.1,836.5 L169.4,835.45 L170.7,834.3 L173.35,830.19 L176,826.4 L178.65,819.27 L181.3,811.9 L183.25,801.5 L185.2,790.8 L186.55,778.43 L187.9,767.1 L188.55,759.92 L189.2,753.9 L190.5,745.1 L191.8,735.5 L192.45,722.01 L193.1,709.1 L194.05,695.58 L195,682.7 L196.05,676.69 L197.1,669.5 L198.4,666.86 L199.7,664.3 L201.05,665.35 L202.4,665.6 L203.45,671.52 L204.5,677.5 L205.4,688.17 L206.3,698.5 L207.65,713.93 L209,730.2 L210.3,746.16 L211.6,761.8 L212.9,772.79 L214.2,782.9 L216.2,796.13 L218.2,809.3 L220.15,817.49 L222.1,825.1 L224.1,828.61 L226.1,831.7 L227.4,833.13 L228.7,835.6 L229.85,836.36 L231,836.5 L232,835.36 L233,834 L235.5,833.76 L238,834 L239,834.69 L240,836.5 L241.5,835.69 L243,834 L246.5,833.97 L250,834 L251.5,835.51 L253,836.5 L283,836.95 L313,836.5 Z" fill="#e5e5e5" stroke="none"/>
<path d="M117.5,836.5 L142.8,836.19 L168.1,836.5 L169.4,835.45 L170.7,834.3 L173.35,830.19 L176,826.4 L178.65,819.27 L181.3,811.9 L183.25,801.5 L185.2,790.8 L186.55,778.43 L187.9,767.1 L188.55,759.92 L189.2,753.9 L190.5,745.1 L191.8,735.5 L192.45,722.01 L193.1,709.1 L194.05,695.58 L195,682.7 L196.05,676.69 L197.1,669.5 L198.4,666.86 L199.7,664.3 L201.05,665.35 L202.4,665.6 L203.45,671.52 L204.5,677.5 L205.4,688.17 L206.3,698.5 L207.65,713.93 L209,730.2 L210.3,746.16 L211.6,761.8 L212.9,772.79 L214.2,782.9 L216.2,796.13 L218.2,809.3 L220.15,817.49 L222.1,825.1 L224.1,828.61 L226.1,831.7 L227.4,833.13 L228.7,835.6 L229.85,836.36 L231,836.5 L232,835.36 L233,834 L235.5,833.76 L238,834 L239,834.69 L240,836.5 L241.5,835.69 L243,834 L246.5,833.97 L250,834 L251.5,835.51 L253,836.5 L283,836.95 L313,836.5" fill="none" stroke="#a0a0a0" stroke-width="1.8" stroke-linejoin="round"/>
<path d="M113,836.8 L151.75,836.38 L190.5,836.8 L191.25,837.27 L192,839 L192.75,836.33 L193.5,834 L194.25,835.95 L195,839 L195.75,835.81 L196.5,834 L197.45,835.24 L198.4,836.8 L201.05,832.92 L203.7,827.7 L205.65,826.83 L207.6,825 L208.3,822.92 L209,820 L209.75,821.56 L210.5,824 L211.7,821.96 L212.9,819.8 L215.55,818.14 L218.2,817.2 L220.85,812.73 L223.5,809.3 L226.1,805.37 L228.7,802.7 L231.35,796.29 L234,790.8 L236.65,786.88 L239.3,781.6 L241.95,773.58 L244.6,764.5 L247.2,754.44 L249.8,743.4 L252.45,733.33 L255.1,722.3 L256.4,715.21 L257.7,709.1 L259.05,700.9 L260.4,693.3 L261.05,687.55 L261.7,681.4 L263,680.47 L264.3,678.8 L265.65,676.07 L267,672.2 L268.3,670.81 L269.6,668.2 L270.3,669.94 L271,673 L271.6,673.42 L272.2,673.5 L273.15,671.77 L274.1,669.5 L275.15,673.51 L276.2,677.5 L277.5,687.48 L278.8,698.5 L280.15,695.86 L281.5,693.3 L282.8,697.89 L284.1,703.8 L285.15,717.7 L286.2,730.2 L287.8,741.33 L289.4,751.3 L291.35,759.28 L293.3,767.1 L295.3,774.68 L297.3,782.9 L299.25,791.45 L301.2,798.7 L303.2,806.77 L305.2,814.6 L307.15,820.46 L309.1,825.1 L310.05,828.31 L311,830.4 L311.4,834.36 L311.8,838.3" fill="none" stroke="#161616" stroke-width="2.5" stroke-linejoin="round"/>
<rect x="118.15" y="643.05" width="194.8" height="194.9" fill="none" stroke="#2a2a2a" stroke-width="1.3"/>
<path d="M118.1,838.6v5 M127.7,838.6v5 M135.1,838.6v5 M137.1,838.6v5 M139.1,838.6v5 M141.1,838.6v5 M143.1,838.6v5 M145.1,838.6v5 M147.1,838.6v5 M149.1,838.6v5 M151.1,838.6v5 M153.1,838.6v5 M155.1,838.6v5 M157.1,838.6v5 M163.6,838.6v5 M167.1,838.6v5 M172.1,838.6v5 M176.6,838.6v5 M181.6,838.6v5 M184.1,838.6v5 M186.1,838.6v5 M190.1,838.6v5 M193.6,838.6v5 M197.1,838.6v5 M216.6,838.6v5 M225.6,838.6v5 M230.1,838.6v5 M232.6,838.6v5 M235.1,838.6v5 M240.6,838.6v5 M246.1,838.6v5 M252.6,838.6v5 M260.1,838.6v5 M264.6,838.6v5 M269.1,838.6v5 M274.6,838.6v5 M277.1,838.6v5 M283.6,838.6v5 M289.6,838.6v5 M291.1,838.6v5 M296.6,838.6v5 M300.6,838.6v5 M303.6,838.6v5 M306.1,838.6v5 M309.6,838.6v5 M314.1,838.6v5" stroke="#2a2a2a" stroke-width="1.2" fill="none"/>
<text x="75.76" y="657.9" font-size="18.5">100</text>
<line x1="107.7" y1="650.1" x2="112.2" y2="650.1" stroke="#2a2a2a" stroke-width="1.4"/>
<text x="86.05" y="695.6" font-size="18.5">80</text>
<line x1="107.7" y1="687.8" x2="112.2" y2="687.8" stroke="#2a2a2a" stroke-width="1.4"/>
<text x="86.05" y="731.8" font-size="18.5">60</text>
<line x1="107.7" y1="724" x2="112.2" y2="724" stroke="#2a2a2a" stroke-width="1.4"/>
<text x="86.05" y="770.6" font-size="18.5">40</text>
<line x1="107.7" y1="762.8" x2="112.2" y2="762.8" stroke="#2a2a2a" stroke-width="1.4"/>
<text x="86.05" y="808.6" font-size="18.5">20</text>
<line x1="107.7" y1="800.8" x2="112.2" y2="800.8" stroke="#2a2a2a" stroke-width="1.4"/>
<text x="96.33" y="840.3" font-size="18.5">0</text>
<line x1="107.7" y1="832.5" x2="112.2" y2="832.5" stroke="#2a2a2a" stroke-width="1.4"/>
<text x="141.28" y="865.8" font-size="18.5">0</text>
<text x="193.59" y="865.8" font-size="18.5">10</text>
<text x="214.77" y="854.8" font-size="18.5">3</text>
<text x="241.09" y="865.8" font-size="18.5">10</text>
<text x="262.27" y="854.8" font-size="18.5">4</text>
<text x="281.59" y="865.8" font-size="18.5">10</text>
<text x="302.77" y="854.8" font-size="18.5">5</text>
<path d="M382.7,838.8 L401.35,838.92 L420,838.8 L422.25,837.64 L424.5,836 L426.25,831.3 L428,826 L430,822.44 L432,818 L434,813.74 L436,809 L437.5,802.42 L439,795 L440.25,785.03 L441.5,776 L442.75,763.97 L444,752 L445,747.44 L446,742 L447.25,740.15 L448.5,738 L449.75,728.9 L451,719 L452.25,709.11 L453.5,700 L454.25,691.97 L455,684 L456,682.25 L457,681 L458,676.54 L459,672 L460,670.07 L461,668 L461.75,665.01 L462.5,663 L463.25,664.72 L464,667 L465.25,669.78 L466.5,673 L468,685.42 L469.5,697 L470.9,709.77 L472.3,722 L473.65,727.16 L475,733 L476.3,740.8 L477.6,748 L479.2,758.14 L480.8,769 L482.75,779.62 L484.7,790 L486.7,799.78 L488.7,810.3 L490.65,817.15 L492.6,825 L494.8,828.87 L497,832 L499.5,833.71 L502,836 L505.65,836.87 L509.3,838.3 L544.65,839.03 L580,838.8 Z" fill="#e2e2e2" stroke="none"/>
<path d="M382.7,838.8 L401.35,838.92 L420,838.8 L422.25,837.64 L424.5,836 L426.25,831.3 L428,826 L430,822.44 L432,818 L434,813.74 L436,809 L437.5,802.42 L439,795 L440.25,785.03 L441.5,776 L442.75,763.97 L444,752 L445,747.44 L446,742 L447.25,740.15 L448.5,738 L449.75,728.9 L451,719 L452.25,709.11 L453.5,700 L454.25,691.97 L455,684 L456,682.25 L457,681 L458,676.54 L459,672 L460,670.07 L461,668 L461.75,665.01 L462.5,663 L463.25,664.72 L464,667 L465.25,669.78 L466.5,673 L468,685.42 L469.5,697 L470.9,709.77 L472.3,722 L473.65,727.16 L475,733 L476.3,740.8 L477.6,748 L479.2,758.14 L480.8,769 L482.75,779.62 L484.7,790 L486.7,799.78 L488.7,810.3 L490.65,817.15 L492.6,825 L494.8,828.87 L497,832 L499.5,833.71 L502,836 L505.65,836.87 L509.3,838.3 L544.65,839.03 L580,838.8" fill="none" stroke="#9a9a9a" stroke-width="1" stroke-linejoin="round"/>
<path d="M382.7,837 L397.2,837.35 L411.7,837 L412.35,839.39 L413,841 L414,837.98 L415,835 L416,836.21 L417,838 L418,833.9 L419,831 L420,834.2 L421,837 L422.3,836.96 L423.6,837 L425.55,831.31 L427.5,825 L429.5,822 L431.5,819.3 L433.5,815.97 L435.5,812 L436.75,805.08 L438,798.7 L439.35,788.51 L440.7,777.6 L442.05,766.03 L443.4,753.9 L444.05,747.2 L444.7,740.7 L446,739.4 L447.3,738 L448.65,727.72 L450,717 L451.3,706.08 L452.6,695.9 L453.25,688.71 L453.9,681.4 L454.95,680.47 L456,678.8 L456.95,673.87 L457.9,669.5 L458.8,668.56 L459.7,666.9 L460.35,664.67 L461,662 L461.4,660.91 L461.8,659 L462.4,660.3 L463,662 L463.75,660.66 L464.5,660.3 L465.8,665.26 L467.1,669.5 L468.15,681.77 L469.2,693.3 L470.5,706.38 L471.8,719.6 L473.15,724.41 L474.5,730.2 L475.8,737.74 L477.1,746 L478.7,756.71 L480.3,767.1 L482.25,777.4 L484.2,788.2 L486.2,799.29 L488.2,809.3 L490.15,817.31 L492.1,825.1 L494.1,828.69 L496.1,833 L498.05,835.19 L500,837 L502,837.73 L504,838.8 L543.5,840.22 L583,840.6" fill="none" stroke="#161616" stroke-width="2.5" stroke-linejoin="round"/>
<rect x="383.35" y="642.55" width="196" height="198.1" fill="none" stroke="#2a2a2a" stroke-width="1.3"/>
<path d="M383.3,841.3v5 M392.96,841.3v5 M400.4,841.3v5 M402.42,841.3v5 M404.43,841.3v5 M406.44,841.3v5 M408.45,841.3v5 M410.47,841.3v5 M412.48,841.3v5 M414.49,841.3v5 M416.5,841.3v5 M418.51,841.3v5 M420.53,841.3v5 M422.54,841.3v5 M429.08,841.3v5 M432.6,841.3v5 M437.63,841.3v5 M442.16,841.3v5 M447.19,841.3v5 M449.7,841.3v5 M451.72,841.3v5 M455.74,841.3v5 M459.26,841.3v5 M462.78,841.3v5 M482.4,841.3v5 M491.46,841.3v5 M495.99,841.3v5 M498.5,841.3v5 M501.02,841.3v5 M506.55,841.3v5 M512.08,841.3v5 M518.62,841.3v5 M526.17,841.3v5 M530.7,841.3v5 M535.22,841.3v5 M540.76,841.3v5 M543.27,841.3v5 M549.81,841.3v5 M555.85,841.3v5 M557.36,841.3v5 M562.89,841.3v5 M566.92,841.3v5 M569.94,841.3v5 M572.45,841.3v5 M575.97,841.3v5 M580.5,841.3v5" stroke="#2a2a2a" stroke-width="1.2" fill="none"/>
<text x="343.36" y="658.7" font-size="18.5">100</text>
<line x1="377.8" y1="650.4" x2="382.7" y2="650.4" stroke="#2a2a2a" stroke-width="1.4"/>
<text x="353.65" y="695.6" font-size="18.5">80</text>
<line x1="377.8" y1="687.3" x2="382.7" y2="687.3" stroke="#2a2a2a" stroke-width="1.4"/>
<text x="353.65" y="734.3" font-size="18.5">60</text>
<line x1="377.8" y1="726" x2="382.7" y2="726" stroke="#2a2a2a" stroke-width="1.4"/>
<text x="353.65" y="770.8" font-size="18.5">40</text>
<line x1="377.8" y1="762.5" x2="382.7" y2="762.5" stroke="#2a2a2a" stroke-width="1.4"/>
<text x="353.65" y="809" font-size="18.5">20</text>
<line x1="377.8" y1="800.7" x2="382.7" y2="800.7" stroke="#2a2a2a" stroke-width="1.4"/>
<text x="363.93" y="839.3" font-size="18.5">0</text>
<line x1="377.8" y1="831" x2="382.7" y2="831" stroke="#2a2a2a" stroke-width="1.4"/>
<text x="409.68" y="867.3" font-size="18.5">0</text>
<text x="463.09" y="867.3" font-size="18.5">10</text>
<text x="484.27" y="856.3" font-size="18.5">3</text>
<text x="510.59" y="867.3" font-size="18.5">10</text>
<text x="531.77" y="856.3" font-size="18.5">4</text>
<text x="551.39" y="867.3" font-size="18.5">10</text>
<text x="572.57" y="856.3" font-size="18.5">5</text>
<path d="M48.4,872.7 V766" stroke="#161616" stroke-width="3.1"/>
<polygon points="37.3,768.1 59.6,768.1 48.4,730.8" fill="#161616"/>
<path d="M61.3,886.3 H169" stroke="#161616" stroke-width="3.3"/>
<polygon points="167.1,875.6 167.1,897.4 203.9,886.5" fill="#161616"/>
<text transform="translate(25.8,799.9) rotate(-90)" x="-63.66" y="0" font-size="29">% of max.</text>
<text x="61.27" y="931.8" font-size="29">eADPR</text>
<rect x="241.9" y="913.3" width="56.7" height="21.2" fill="#fff" stroke="#161616" stroke-width="2.6"/>
<text x="312.82" y="935" font-size="29">LPS/U0126</text>
<rect x="494.3" y="914.6" width="57.4" height="22.1" fill="#c8c8c8" stroke="#808080" stroke-width="2.6"/>
<text x="566.27" y="935" font-size="29">control</text>
<text x="695.15" y="589" font-size="50" font-weight="bold">d</text>
<text x="809.15" y="628.95" font-size="29">250</text>
<line x1="860.2" y1="618.85" x2="866" y2="618.85" stroke="#161616" stroke-width="2.2"/>
<text x="809.15" y="678.58" font-size="29">200</text>
<line x1="860.2" y1="668.48" x2="866" y2="668.48" stroke="#161616" stroke-width="2.2"/>
<text x="809.15" y="728.21" font-size="29">150</text>
<line x1="860.2" y1="718.11" x2="866" y2="718.11" stroke="#161616" stroke-width="2.2"/>
<text x="809.15" y="777.84" font-size="29">100</text>
<line x1="860.2" y1="767.74" x2="866" y2="767.74" stroke="#161616" stroke-width="2.2"/>
<text x="825.28" y="827.47" font-size="29">50</text>
<line x1="860.2" y1="817.37" x2="866" y2="817.37" stroke="#161616" stroke-width="2.2"/>
<text x="841.4" y="877.1" font-size="29">0</text>
<line x1="860.2" y1="867" x2="866" y2="867" stroke="#161616" stroke-width="2.2"/>
<line x1="866" y1="617.6" x2="866" y2="868.1" stroke="#161616" stroke-width="2.2"/>
<line x1="864.9" y1="867" x2="996.3" y2="867" stroke="#161616" stroke-width="2.2"/>
<rect x="875.8" y="864.2" width="52.9" height="2.8" fill="#161616"/>
<rect x="937.3" y="721.6" width="53.4" height="145.4" fill="#161616"/>
<line x1="964" y1="663.5" x2="964" y2="722" stroke="#161616" stroke-width="2.2"/>
<line x1="950.2" y1="663.5" x2="977.8" y2="663.5" stroke="#161616" stroke-width="2.2"/>
<line x1="902.9" y1="867" x2="902.9" y2="873.8" stroke="#161616" stroke-width="2.2"/>
<line x1="964" y1="867" x2="964" y2="873.8" stroke="#161616" stroke-width="2.2"/>
<text x="800.82" y="910" font-size="29">LPS</text>
<text x="785.12" y="944.5" font-size="29">U0126</text>
<text x="895.64" y="916.56" font-size="29">–</text>
<text x="958.74" y="919.94" font-size="29">+</text>
<text transform="translate(766,724) rotate(-90)" x="-33.45" y="0" font-size="29" font-style="italic">Art2a</text>
<text transform="translate(796.6,718.6) rotate(-90)" x="-91.87" y="0" font-size="29">(fold increase)</text>
<text x="1105.25" y="589" font-size="50" font-weight="bold">e</text>
<text x="1285.97" y="628.3" font-size="29">control</text>
<text x="1501.92" y="628.2" font-size="29">LPS / U0126</text>
<path d="M1240,838.3 L1258.65,838.11 L1277.3,838.2 L1280.4,831.22 L1283.5,824.8 L1286.6,811.57 L1289.7,798.1 L1292.75,777.21 L1295.8,757 L1298.4,739.53 L1301,722 L1303,706.39 L1305,691 L1306.55,679.4 L1308.1,668.5 L1309.15,666.46 L1310.2,664.4 L1311.45,670.18 L1312.7,676.7 L1313.5,683.8 L1314.3,691 L1315.85,704.11 L1317.4,717.9 L1318.95,732.97 L1320.5,748.7 L1322.05,765.09 L1323.6,781.6 L1325.1,794.21 L1326.6,806.3 L1328.65,816.3 L1330.7,826.9 L1333.3,830.78 L1335.9,835.1 L1337.95,836.75 L1340,838.2 L1387,838.61 L1434,838.3 Z" fill="#e2e2e2" stroke="none"/>
<path d="M1240,838.3 L1258.65,838.11 L1277.3,838.2 L1280.4,831.22 L1283.5,824.8 L1286.6,811.57 L1289.7,798.1 L1292.75,777.21 L1295.8,757 L1298.4,739.53 L1301,722 L1303,706.39 L1305,691 L1306.55,679.4 L1308.1,668.5 L1309.15,666.46 L1310.2,664.4 L1311.45,670.18 L1312.7,676.7 L1313.5,683.8 L1314.3,691 L1315.85,704.11 L1317.4,717.9 L1318.95,732.97 L1320.5,748.7 L1322.05,765.09 L1323.6,781.6 L1325.1,794.21 L1326.6,806.3 L1328.65,816.3 L1330.7,826.9 L1333.3,830.78 L1335.9,835.1 L1337.95,836.75 L1340,838.2 L1387,838.61 L1434,838.3" fill="none" stroke="#9a9a9a" stroke-width="1" stroke-linejoin="round"/>
<path d="M1237,838.3 L1257,838.03 L1277,838.3 L1278.2,840.26 L1279.4,841.3 L1282.45,835.78 L1285.5,831 L1287.6,822.95 L1289.7,814.5 L1291.75,801.79 L1293.8,789.9 L1295.85,775.2 L1297.9,761 L1299.45,747.15 L1301,732.3 L1302,723.76 L1303,715.8 L1304.05,709.79 L1305.1,703.5 L1306.1,692.16 L1307.1,680.9 L1308.15,672.6 L1309.2,664.4 L1310.2,666.44 L1311.2,668.5 L1311.95,665.64 L1312.7,663.4 L1313.5,661.68 L1314.3,659.3 L1315.35,669.69 L1316.4,680.9 L1317.6,699.13 L1318.8,717.9 L1320.15,728.72 L1321.5,740.5 L1323.05,752.62 L1324.6,765.2 L1326.15,777.46 L1327.7,789.9 L1329.2,800.55 L1330.7,810.4 L1332.8,818.53 L1334.9,826.9 L1336.95,830.61 L1339,835.1 L1340.5,836.41 L1342,838.2 L1388.2,838.74 L1434.4,838.3" fill="none" stroke="#161616" stroke-width="2.8" stroke-linejoin="round"/>
<rect x="1236.65" y="642.45" width="197.9" height="196.7" fill="none" stroke="#2a2a2a" stroke-width="1.3"/>
<path d="M1236.6,839.8v5 M1246.35,839.8v5 M1253.87,839.8v5 M1255.9,839.8v5 M1257.93,839.8v5 M1259.96,839.8v5 M1262,839.8v5 M1264.03,839.8v5 M1266.06,839.8v5 M1268.09,839.8v5 M1270.12,839.8v5 M1272.15,839.8v5 M1274.18,839.8v5 M1276.22,839.8v5 M1282.82,839.8v5 M1286.37,839.8v5 M1291.45,839.8v5 M1296.02,839.8v5 M1301.1,839.8v5 M1303.64,839.8v5 M1305.67,839.8v5 M1309.74,839.8v5 M1313.29,839.8v5 M1316.85,839.8v5 M1336.66,839.8v5 M1345.8,839.8v5 M1350.37,839.8v5 M1352.91,839.8v5 M1355.45,839.8v5 M1361.04,839.8v5 M1366.62,839.8v5 M1373.23,839.8v5 M1380.84,839.8v5 M1385.42,839.8v5 M1389.99,839.8v5 M1395.57,839.8v5 M1398.11,839.8v5 M1404.72,839.8v5 M1410.81,839.8v5 M1412.33,839.8v5 M1417.92,839.8v5 M1421.99,839.8v5 M1425.03,839.8v5 M1427.57,839.8v5 M1431.13,839.8v5 M1435.7,839.8v5" stroke="#2a2a2a" stroke-width="1.2" fill="none"/>
<text x="1196.26" y="659.5" font-size="18.5">100</text>
<text x="1206.55" y="698.3" font-size="18.5">80</text>
<text x="1206.55" y="735.2" font-size="18.5">60</text>
<text x="1206.55" y="772.1" font-size="18.5">40</text>
<text x="1206.55" y="810.3" font-size="18.5">20</text>
<text x="1216.83" y="839.8" font-size="18.5">0</text>
<path d="M1231.6,653.2h4.4 M1231.6,662.9h4.4 M1231.6,672.6h4.4 M1231.6,682.3h4.4 M1231.6,692h4.4 M1231.6,701.23h4.4 M1231.6,710.45h4.4 M1231.6,719.67h4.4 M1231.6,728.9h4.4 M1231.6,738.12h4.4 M1231.6,747.35h4.4 M1231.6,756.57h4.4 M1231.6,765.8h4.4 M1231.6,775.35h4.4 M1231.6,784.9h4.4 M1231.6,794.45h4.4 M1231.6,804h4.4 M1231.6,811.38h4.4 M1231.6,818.75h4.4 M1231.6,826.12h4.4 M1231.6,833.5h4.4" stroke="#2a2a2a" stroke-width="1.3" fill="none"/>
<text x="1259.28" y="867.2" font-size="18.5">0</text>
<text x="1314.59" y="867.2" font-size="18.5">10</text>
<text x="1335.77" y="856.2" font-size="18.5">3</text>
<text x="1361.99" y="867.2" font-size="18.5">10</text>
<text x="1383.17" y="856.2" font-size="18.5">4</text>
<text x="1402.89" y="867.2" font-size="18.5">10</text>
<text x="1424.07" y="856.2" font-size="18.5">5</text>
<path d="M1494,836.3 L1511.1,836.27 L1528.2,836.3 L1528.2,835.05 L1528.2,834 L1530.25,832.21 L1532.3,831 L1535.4,820.99 L1538.5,810.4 L1540.55,799.76 L1542.6,789.9 L1544.15,777.55 L1545.7,765.2 L1547.25,747.02 L1548.8,728.2 L1549.8,708.31 L1550.8,689.1 L1551.85,678.84 L1552.9,668.5 L1553.7,665.49 L1554.5,662.3 L1555.25,666.08 L1556,670.6 L1557,668.95 L1558,667.5 L1559.05,665.06 L1560.1,662.3 L1561.1,665.36 L1562.1,668.5 L1563.15,679.98 L1564.2,691.1 L1565.25,699.08 L1566.3,707.6 L1567.3,717.69 L1568.3,728.2 L1569.85,742.29 L1571.4,757 L1572.95,773.46 L1574.5,789.9 L1576.55,802.54 L1578.6,814.5 L1581.15,822.82 L1583.7,831 L1585.75,834.27 L1587.8,837.1 L1589.35,837.56 L1590.9,838.2 L1641.45,838.4 L1692,838.2 Z" fill="#e2e2e2" stroke="none"/>
<path d="M1494,836.3 L1511.1,836.27 L1528.2,836.3 L1528.2,835.05 L1528.2,834 L1530.25,832.21 L1532.3,831 L1535.4,820.99 L1538.5,810.4 L1540.55,799.76 L1542.6,789.9 L1544.15,777.55 L1545.7,765.2 L1547.25,747.02 L1548.8,728.2 L1549.8,708.31 L1550.8,689.1 L1551.85,678.84 L1552.9,668.5 L1553.7,665.49 L1554.5,662.3 L1555.25,666.08 L1556,670.6 L1557,668.95 L1558,667.5 L1559.05,665.06 L1560.1,662.3 L1561.1,665.36 L1562.1,668.5 L1563.15,679.98 L1564.2,691.1 L1565.25,699.08 L1566.3,707.6 L1567.3,717.69 L1568.3,728.2 L1569.85,742.29 L1571.4,757 L1572.95,773.46 L1574.5,789.9 L1576.55,802.54 L1578.6,814.5 L1581.15,822.82 L1583.7,831 L1585.75,834.27 L1587.8,837.1 L1589.35,837.56 L1590.9,838.2 L1641.45,838.4 L1692,838.2" fill="none" stroke="#a0a0a0" stroke-width="2" stroke-linejoin="round"/>
<path d="M1494,837.9 L1512.65,838.09 L1531.3,838.1 L1533.85,834.46 L1536.4,831 L1538.5,825.89 L1540.6,820.6 L1542.65,812.05 L1544.7,804.2 L1546.75,794.28 L1548.8,783.6 L1550.35,776.79 L1551.9,769.2 L1553.45,756.03 L1555,742.5 L1556,736.94 L1557,732.2 L1558.55,724.02 L1560.1,715.8 L1561.65,703.24 L1563.2,691.1 L1564,684.15 L1564.8,677.8 L1566.25,679.34 L1567.7,679.8 L1569.05,676.3 L1570.4,671.6 L1571.4,670 L1572.4,669.5 L1573.45,674.58 L1574.5,678.8 L1575.5,682.02 L1576.5,685 L1577.55,689.96 L1578.6,695.2 L1579.95,687.74 L1581.3,680.8 L1582,691.31 L1582.7,701.4 L1584.25,707.5 L1585.8,713.7 L1587.35,725.27 L1588.9,736.4 L1589.9,743.79 L1590.9,750.8 L1592.45,757.56 L1594,765.2 L1595.05,772.72 L1596.1,779.6 L1597.65,786.38 L1599.2,792 L1600.7,799.71 L1602.2,806.3 L1604.25,813.64 L1606.3,820.7 L1608.9,825.3 L1611.5,831 L1614.05,832.45 L1616.6,835.1 L1617.65,837.76 L1618.7,841.3 L1655.55,842.33 L1692.4,842.3" fill="none" stroke="#161616" stroke-width="2.6" stroke-linejoin="round"/>
<rect x="1494.15" y="642.05" width="197.6" height="198.8" fill="none" stroke="#2a2a2a" stroke-width="1.3"/>
<path d="M1494.1,841.5v5 M1503.84,841.5v5 M1511.34,841.5v5 M1513.37,841.5v5 M1515.4,841.5v5 M1517.43,841.5v5 M1519.46,841.5v5 M1521.49,841.5v5 M1523.51,841.5v5 M1525.54,841.5v5 M1527.57,841.5v5 M1529.6,841.5v5 M1531.63,841.5v5 M1533.66,841.5v5 M1540.25,841.5v5 M1543.8,841.5v5 M1548.87,841.5v5 M1553.44,841.5v5 M1558.51,841.5v5 M1561.04,841.5v5 M1563.07,841.5v5 M1567.13,841.5v5 M1570.68,841.5v5 M1574.23,841.5v5 M1594.01,841.5v5 M1603.13,841.5v5 M1607.7,841.5v5 M1610.23,841.5v5 M1612.77,841.5v5 M1618.35,841.5v5 M1623.93,841.5v5 M1630.52,841.5v5 M1638.13,841.5v5 M1642.69,841.5v5 M1647.26,841.5v5 M1652.83,841.5v5 M1655.37,841.5v5 M1661.96,841.5v5 M1668.05,841.5v5 M1669.57,841.5v5 M1675.15,841.5v5 M1679.21,841.5v5 M1682.25,841.5v5 M1684.78,841.5v5 M1688.33,841.5v5 M1692.9,841.5v5" stroke="#2a2a2a" stroke-width="1.2" fill="none"/>
<text x="1453.76" y="659.6" font-size="18.5">100</text>
<text x="1464.05" y="697.3" font-size="18.5">80</text>
<text x="1464.05" y="732.5" font-size="18.5">60</text>
<text x="1464.05" y="772.3" font-size="18.5">40</text>
<text x="1464.05" y="810.5" font-size="18.5">20</text>
<text x="1474.33" y="842.6" font-size="18.5">0</text>
<path d="M1489.1,653.3h4.4 M1489.1,662.72h4.4 M1489.1,672.15h4.4 M1489.1,681.58h4.4 M1489.1,691h4.4 M1489.1,699.8h4.4 M1489.1,708.6h4.4 M1489.1,717.4h4.4 M1489.1,726.2h4.4 M1489.1,736.15h4.4 M1489.1,746.1h4.4 M1489.1,756.05h4.4 M1489.1,766h4.4 M1489.1,775.55h4.4 M1489.1,785.1h4.4 M1489.1,794.65h4.4 M1489.1,804.2h4.4 M1489.1,812.23h4.4 M1489.1,820.25h4.4 M1489.1,828.27h4.4 M1489.1,836.3h4.4" stroke="#2a2a2a" stroke-width="1.3" fill="none"/>
<text x="1515.18" y="868" font-size="18.5">0</text>
<text x="1571.59" y="868" font-size="18.5">10</text>
<text x="1592.77" y="857" font-size="18.5">3</text>
<text x="1619.09" y="868" font-size="18.5">10</text>
<text x="1640.27" y="857" font-size="18.5">4</text>
<text x="1660.39" y="868" font-size="18.5">10</text>
<text x="1681.57" y="857" font-size="18.5">5</text>
<path d="M1174.2,873.7 V766" stroke="#161616" stroke-width="3.1"/>
<polygon points="1163.2,768.2 1185,768.2 1174.2,731.6" fill="#161616"/>
<path d="M1186.9,887.9 H1294" stroke="#161616" stroke-width="3.3"/>
<polygon points="1292.4,876.8 1292.4,899 1329,887.9" fill="#161616"/>
<text transform="translate(1151.6,800.8) rotate(-90)" x="-63.66" y="0" font-size="29">% of max.</text>
<text x="1191.94" y="934" font-size="29">ARTC2.1</text>
<rect x="1404.6" y="907.8" width="59.5" height="22.6" fill="#fff" stroke="#161616" stroke-width="2.6"/>
<text x="1481.17" y="930.6" font-size="29">WT</text>
<rect x="1553.7" y="909.2" width="59.5" height="22.5" fill="#c8c8c8" stroke="#808080" stroke-width="2.6"/>
<text x="1629.54" y="931.2" font-size="29">ART2ko</text>
</svg></body></html>
